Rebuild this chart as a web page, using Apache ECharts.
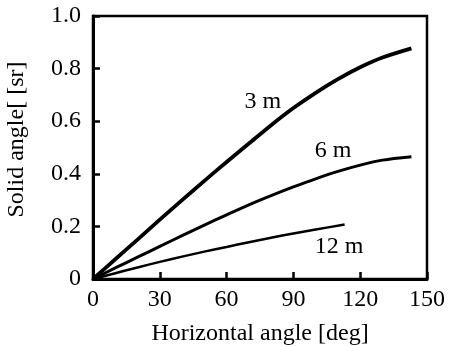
<!DOCTYPE html>
<html>
<head>
<meta charset="utf-8">
<script src="https://cdn.jsdelivr.net/npm/echarts@6/dist/echarts.min.js"></script>
<style>
html,body{margin:0;padding:0;background:#fff;}
#c{width:449px;height:347px;}
</style>
</head>
<body>
<div id="c"></div>
<script>
const xTicks = [0, 30, 60, 90, 120, 150];
const yTicks = [0, 0.2, 0.4, 0.6, 0.8, 1.0];

const deg3 = [0, 10, 20, 30, 40, 50, 60, 70, 80, 90, 100, 110, 120, 130, 143];
const sr3  = [0, 0.075, 0.15, 0.226, 0.30, 0.373, 0.445, 0.515, 0.585, 0.65, 0.708, 0.76, 0.805, 0.842, 0.877];

const deg6 = [0, 10, 20, 30, 40, 50, 60, 70, 80, 90, 100, 110, 120, 130, 143];
const sr6  = [0, 0.042, 0.083, 0.124, 0.165, 0.205, 0.244, 0.282, 0.317, 0.35, 0.381, 0.409, 0.433, 0.452, 0.465];

const deg12 = [0, 10, 20, 30, 40, 50, 60, 70, 80, 90, 100, 113];
const sr12  = [0, 0.022, 0.044, 0.065, 0.085, 0.104, 0.122, 0.14, 0.157, 0.173, 0.188, 0.207];

const seriesNames = ['3 m', '6 m', '12 m'];
const labelPos = [[76.3, 0.673], [107.8, 0.487], [110.5, 0.122]];

const FONT = 'Liberation Serif';
const FS = 24;
const pair = (xs, ys) => xs.map((x, i) => [x, ys[i]]);

function mk(name, data, width, lp) {
  return {
    name: name,
    type: 'line',
    data: data,
    smooth: 0.3,
    showSymbol: false,
    silent: true,
    lineStyle: { color: '#000', width: width },
    markPoint: {
      symbol: 'circle', symbolSize: 0,
      label: { show: true, formatter: name, color: '#000', fontFamily: FONT, fontSize: FS, position: 'inside' },
      data: [{ coord: lp }]
    }
  };
}

const chart = echarts.init(document.getElementById('c'), null, { renderer: 'canvas' });
chart.setOption({
  animation: false,
  backgroundColor: '#fff',
  grid: { left: 93, right: 22, top: 16, bottom: 68, containLabel: false, outerBoundsMode: 'none',
    show: true, borderColor: '#000', borderWidth: 2.5, backgroundColor: 'transparent' },
  xAxis: {
    type: 'value', min: 0, max: 150, interval: 30,
    name: 'Horizontal angle [deg]', nameLocation: 'middle', nameGap: 43,
    nameTextStyle: { fontFamily: FONT, fontSize: FS, color: '#000' },
    axisLine: { lineStyle: { color: '#000', width: 3 } },
    axisTick: { inside: true, length: 7, lineStyle: { color: '#000', width: 2.5 } },
    axisLabel: { fontFamily: FONT, fontSize: FS, color: '#000', margin: 9 },
    splitLine: { show: false }
  },
  yAxis: {
    type: 'value', min: 0, max: 1.0, interval: 0.2,
    name: 'Solid angle[ [sr]', nameLocation: 'middle', nameGap: 64,
    nameTextStyle: { fontFamily: FONT, fontSize: FS, color: '#000', padding: [0, 0, 0, 16] },
    axisLine: { lineStyle: { color: '#000', width: 3 } },
    axisTick: { inside: true, length: 7, lineStyle: { color: '#000', width: 2.5 } },
    axisLabel: { fontFamily: FONT, fontSize: FS, color: '#000', margin: 12,
      formatter: v => v === 0 ? '0' : v.toFixed(1) },
    splitLine: { show: false }
  },
  series: [
    mk(seriesNames[0], pair(deg3, sr3), 3.8, labelPos[0]),
    mk(seriesNames[1], pair(deg6, sr6), 3, labelPos[1]),
    mk(seriesNames[2], pair(deg12, sr12), 2.5, labelPos[2])
  ]
});
</script>
</body>
</html>
